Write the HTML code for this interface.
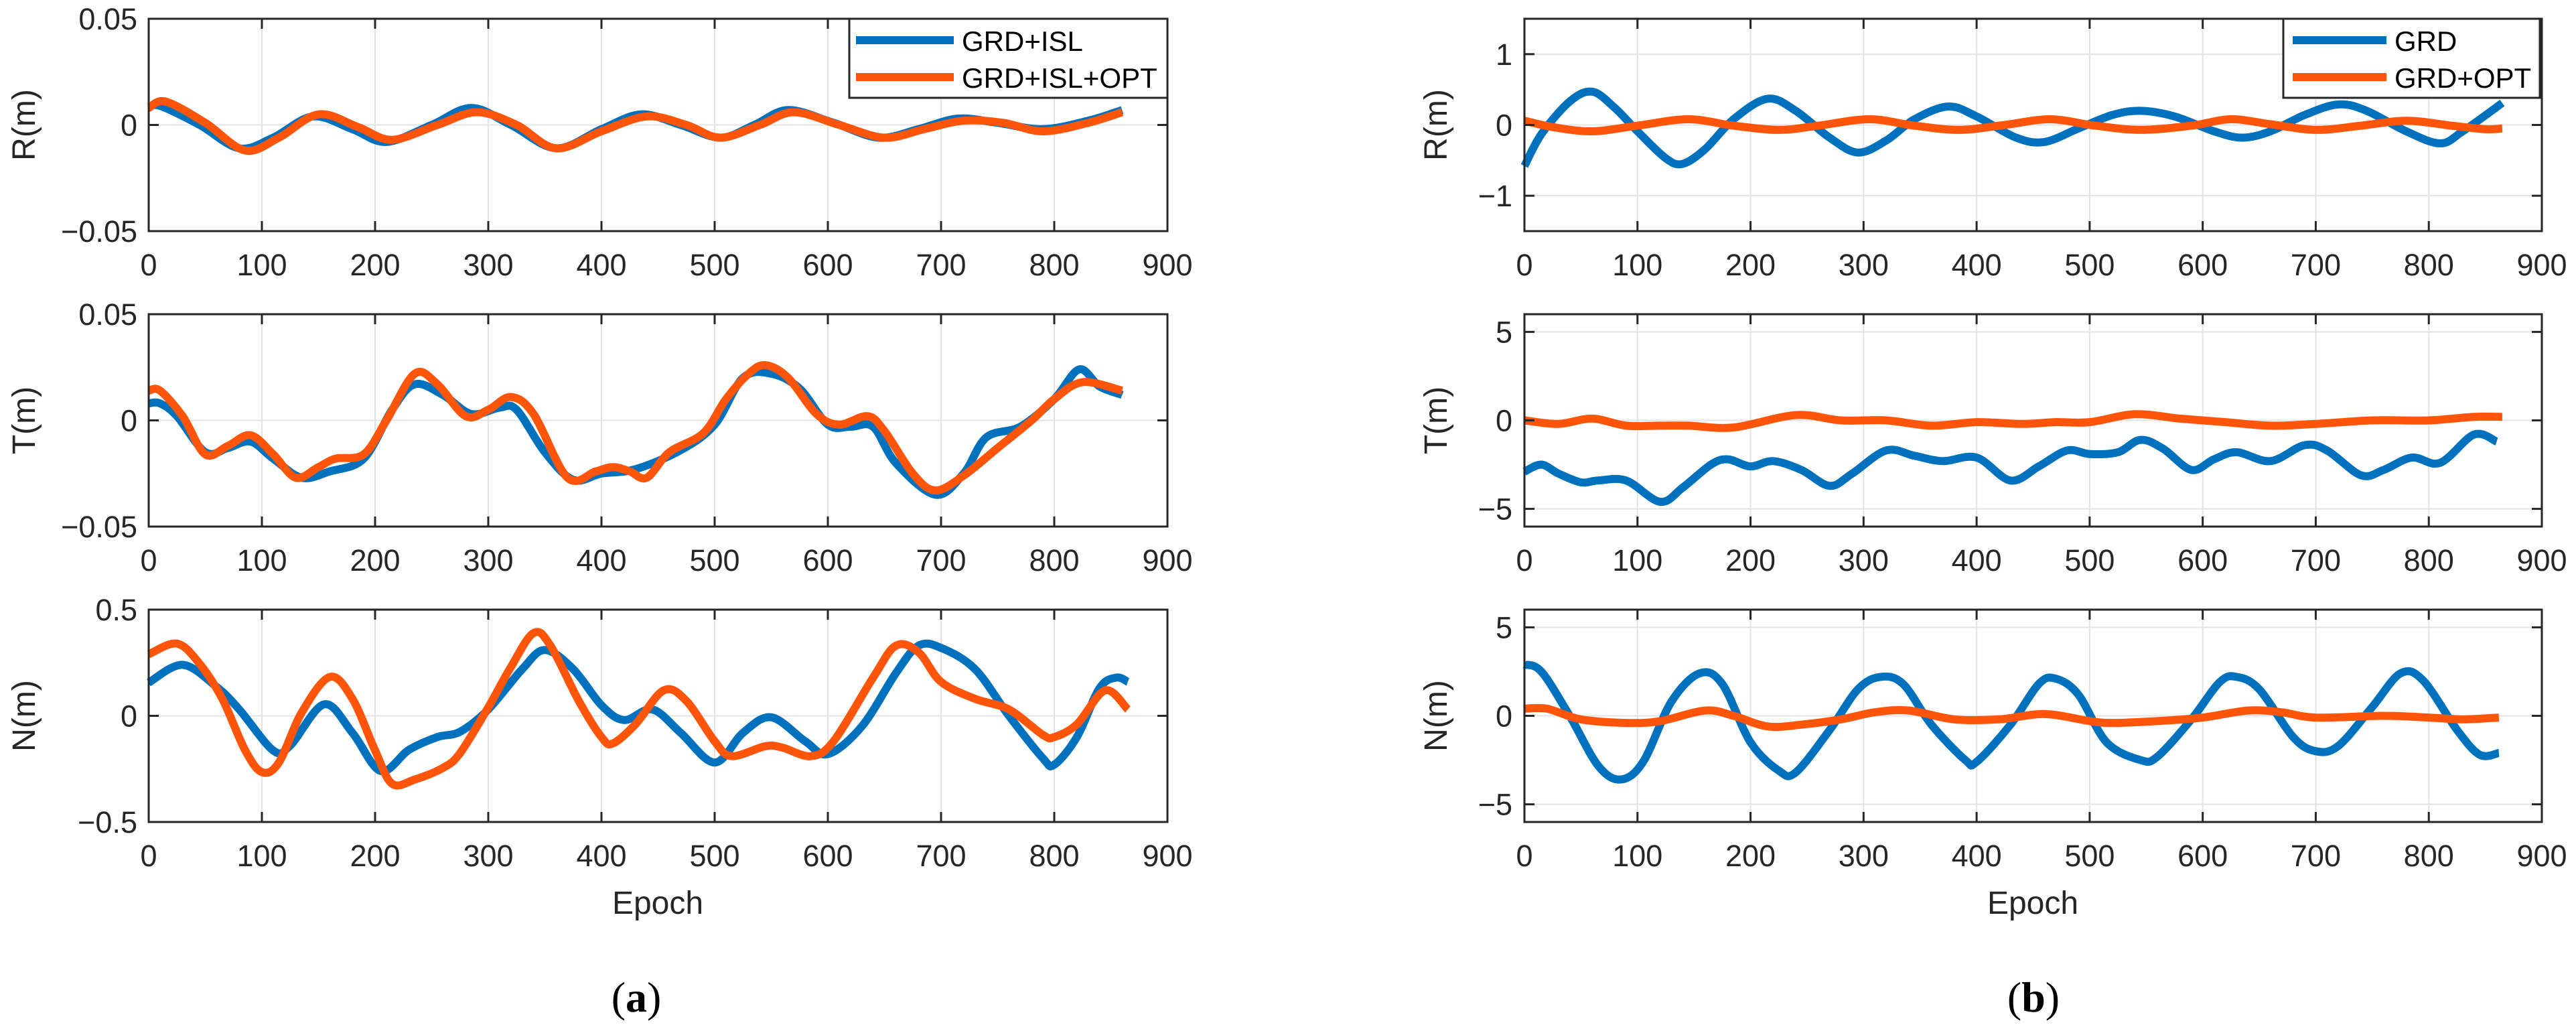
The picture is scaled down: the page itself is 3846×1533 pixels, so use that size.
<!DOCTYPE html>
<html><head><meta charset="utf-8">
<style>
html,body{margin:0;padding:0;background:#fff;}
svg{display:block;font-family:"Liberation Sans",Arial,sans-serif;}
</style></head>
<body>
<svg id="fig" width="3846" height="1533" viewBox="0 0 3846 1533" xmlns="http://www.w3.org/2000/svg"></svg>
<script>
// ---------- data ----------
const xTicks = [0,100,200,300,400,500,600,700,800,900];
const seriesNamesA = ["GRD+ISL","GRD+ISL+OPT"];
const seriesNamesB = ["GRD","GRD+OPT"];

const aR_blue_x = [0,10,45,80,110,145,180,210,250,285,320,360,400,435,470,505,535,565,605,645,680,715,750,790,830,860];
const aR_blue_y = [0.008,0.009,0.0,-0.011,-0.006,0.004,-0.002,-0.008,0.0,0.008,0.0,-0.011,-0.002,0.005,0.0,-0.006,0.0,0.007,0.001,-0.006,-0.002,0.003,0.001,-0.002,0.002,0.007];
const aR_or_x = [0,15,50,85,115,150,185,215,255,290,325,360,400,440,475,505,540,570,610,650,685,720,755,790,830,860];
const aR_or_y = [0.008,0.011,0.001,-0.012,-0.006,0.005,-0.001,-0.007,0.0,0.006,0.0,-0.011,-0.003,0.004,0.0,-0.006,0.0,0.006,0.0,-0.006,-0.002,0.002,0.001,-0.003,0.001,0.006];

const aT_blue_x = [0,10,25,50,70,90,110,135,160,190,215,235,260,285,310,325,350,375,400,430,470,500,525,550,575,600,620,640,660,695,720,740,770,800,822,840,860];
const aT_blue_y = [0.008,0.008,0.002,-0.015,-0.013,-0.01,-0.018,-0.027,-0.024,-0.018,0.005,0.017,0.012,0.003,0.006,0.005,-0.015,-0.028,-0.025,-0.023,-0.014,-0.002,0.02,0.022,0.015,-0.002,-0.003,-0.003,-0.02,-0.035,-0.025,-0.008,-0.003,0.01,0.024,0.016,0.012];
const aT_or_x = [0,10,30,50,70,90,110,130,150,165,190,210,235,255,280,300,320,340,370,395,410,425,440,460,490,510,530,545,565,590,610,635,650,675,695,720,750,780,800,825,860];
const aT_or_y = [0.014,0.014,0.002,-0.016,-0.012,-0.007,-0.016,-0.027,-0.022,-0.018,-0.016,0.0,0.022,0.017,0.002,0.005,0.011,0.003,-0.027,-0.024,-0.022,-0.024,-0.027,-0.015,-0.006,0.01,0.022,0.026,0.02,0.003,-0.002,0.002,-0.005,-0.025,-0.033,-0.026,-0.013,0.0,0.01,0.018,0.014];

const aN_blue_x = [0,30,60,80,110,125,155,180,205,230,255,275,300,330,350,375,400,420,445,470,500,525,550,580,600,630,660,680,700,730,760,790,800,820,840,855,865];
const aN_blue_y = [0.156,0.24,0.136,0.03,-0.163,-0.14,0.054,-0.08,-0.26,-0.16,-0.1,-0.075,0.03,0.22,0.31,0.22,0.05,-0.02,0.03,-0.08,-0.22,-0.08,-0.007,-0.12,-0.18,-0.05,0.2,0.33,0.32,0.22,0.0,-0.2,-0.23,-0.1,0.13,0.18,0.16];
const aN_or_x = [0,25,45,65,85,100,115,135,160,180,200,215,235,260,275,300,320,340,355,380,400,410,430,455,475,500,515,545,560,585,605,640,660,680,700,730,760,790,800,820,845,865];
const aN_or_y = [0.29,0.34,0.245,0.08,-0.16,-0.265,-0.22,0.014,0.183,0.08,-0.163,-0.32,-0.3,-0.245,-0.176,0.04,0.23,0.39,0.33,0.07,-0.1,-0.13,-0.04,0.12,0.07,-0.12,-0.19,-0.143,-0.15,-0.19,-0.12,0.18,0.33,0.3,0.16,0.08,0.03,-0.09,-0.1,-0.04,0.12,0.03];

const bR_blue_x = [0,15,40,60,80,100,125,140,160,185,215,240,270,295,320,345,375,400,435,460,490,520,545,575,610,635,660,690,720,745,780,810,830,865];
const bR_blue_y = [-0.58,-0.13,0.33,0.47,0.24,-0.09,-0.47,-0.55,-0.34,0.08,0.37,0.2,-0.18,-0.39,-0.22,0.08,0.26,0.12,-0.18,-0.24,-0.05,0.14,0.2,0.12,-0.09,-0.18,-0.09,0.14,0.29,0.2,-0.09,-0.26,-0.09,0.31];
const bR_or_x = [0,25,60,100,145,185,225,260,305,345,385,425,465,505,545,590,625,660,700,740,780,820,850,865];
const bR_or_y = [0.06,-0.03,-0.09,-0.01,0.08,-0.01,-0.07,-0.01,0.08,-0.01,-0.07,0.0,0.08,-0.01,-0.07,-0.01,0.08,0.01,-0.07,-0.01,0.06,-0.01,-0.06,-0.05];

const bT_blue_x = [0,15,30,50,65,90,120,140,165,180,200,220,245,270,290,320,345,370,400,430,455,480,500,525,545,565,590,610,630,660,690,710,740,760,785,810,840,860];
const bT_blue_y = [-2.9,-2.5,-3.0,-3.5,-3.4,-3.4,-4.6,-3.8,-2.5,-2.2,-2.6,-2.3,-2.8,-3.7,-3.0,-1.7,-2.0,-2.3,-2.1,-3.4,-2.6,-1.7,-1.9,-1.8,-1.1,-1.6,-2.8,-2.2,-1.8,-2.3,-1.4,-1.7,-3.1,-2.8,-2.1,-2.4,-0.8,-1.2];
const bT_or_x = [0,30,60,90,120,145,185,240,280,320,360,400,440,470,500,540,580,620,660,700,750,800,840,865];
const bT_or_y = [0.0,-0.2,0.1,-0.3,-0.3,-0.3,-0.4,0.3,0.0,0.0,-0.3,-0.1,-0.2,-0.1,-0.1,0.35,0.1,-0.1,-0.3,-0.2,0.0,0.0,0.2,0.2];

const bN_blue_x = [0,15,40,65,85,105,130,155,175,200,225,240,270,295,315,335,360,390,400,430,455,470,490,515,545,560,590,615,630,650,680,700,720,750,775,795,825,845,862];
const bN_blue_y = [2.9,2.5,0.0,-2.8,-3.6,-2.6,0.8,2.4,1.8,-1.5,-3.1,-3.2,-0.8,1.5,2.2,1.8,-0.5,-2.5,-2.6,-0.5,1.8,2.1,1.2,-1.5,-2.5,-2.3,-0.2,1.9,2.2,1.5,-1.2,-2.0,-1.7,0.5,2.4,2.0,-0.8,-2.2,-2.1];
const bN_or_x = [0,20,50,90,120,160,185,215,245,280,310,340,380,420,460,500,520,560,600,640,670,700,760,800,830,862];
const bN_or_y = [0.4,0.4,-0.2,-0.4,-0.3,0.3,0.0,-0.6,-0.5,-0.2,0.2,0.3,-0.2,-0.2,0.1,-0.3,-0.4,-0.3,-0.1,0.3,0.2,-0.1,0.0,-0.1,-0.2,-0.1];

const yTicksA1 = [-0.05,0,0.05], yTickLabA1 = ["\u22120.05","0","0.05"];
const yTicksA3 = [-0.5,0,0.5], yTickLabA3 = ["\u22120.5","0","0.5"];
const yTicksB1 = [-1,0,1], yTickLabB1 = ["\u22121","0","1"];
const yTicksB2 = [-5,0,5], yTickLabB2 = ["\u22125","0","5"];

// ---------- drawing ----------
const NS = "http://www.w3.org/2000/svg";
const svg = document.getElementById("fig");
const BLUE = "#0072BD", ORANGE = "#FF550A";
function mk(tag, attrs, parent){ const e=document.createElementNS(NS,tag); for(const k in attrs) e.setAttribute(k,attrs[k]); (parent||svg).appendChild(e); return e; }

function smoothPath(px, py){
  let d = "M"+px[0].toFixed(1)+","+py[0].toFixed(1);
  for(let i=0;i<px.length-1;i++){
    const x0=px[Math.max(i-1,0)], y0=py[Math.max(i-1,0)];
    const x1=px[i], y1=py[i], x2=px[i+1], y2=py[i+1];
    const x3=px[Math.min(i+2,px.length-1)], y3=py[Math.min(i+2,px.length-1)];
    const c1x=x1+(x2-x0)/6, c1y=y1+(y2-y0)/6, c2x=x2-(x3-x1)/6, c2y=y2-(y3-y1)/6;
    d += " C"+c1x.toFixed(1)+","+c1y.toFixed(1)+" "+c2x.toFixed(1)+","+c2y.toFixed(1)+" "+x2.toFixed(1)+","+y2.toFixed(1);
  }
  return d;
}

function panel(name, L, R, T, B, ymin, ymax, yTicks, yLabs, ylabel, series, ylabX, ytickX){
  const g = mk("g",{});
  
  
  const sx = v => L + (v-0)/(900-0)*(R-L);
  const sy = v => B - (v-ymin)/(ymax-ymin)*(B-T);
  xTicks.forEach(t=>{ const l=mk("line",{x1:sx(t),x2:sx(t),y1:T,y2:B,stroke:"#e3e3e3","stroke-width":2},g);
      });
  yTicks.forEach(t=>{ const l=mk("line",{x1:L,x2:R,y1:sy(t),y2:sy(t),stroke:"#e3e3e3","stroke-width":2},g);
      });
  series.forEach(s=>{
    const p = mk("path",{d:smoothPath(s.x.map(sx), s.y.map(sy)),fill:"none",stroke:s.c,"stroke-width":12,"stroke-linejoin":"round","stroke-linecap":"butt"},g);
    
    
  });
  const bx = mk("rect",{x:L,y:T,width:R-L,height:B-T,fill:"none",stroke:"#262626","stroke-width":3},g);
   
  xTicks.forEach(t=>{
    mk("line",{x1:sx(t),x2:sx(t),y1:B,y2:B-15,stroke:"#262626","stroke-width":3},g);
    mk("line",{x1:sx(t),x2:sx(t),y1:T,y2:T+15,stroke:"#262626","stroke-width":3},g);
    const tx = mk("text",{x:sx(t),y:B+66,"text-anchor":"middle","font-size":45,fill:"#262626"},g);
    tx.textContent = t;
     
  });
  yTicks.forEach((t,i)=>{
    mk("line",{x1:L,x2:L+15,y1:sy(t),y2:sy(t),stroke:"#262626","stroke-width":3},g);
    mk("line",{x1:R,x2:R-15,y1:sy(t),y2:sy(t),stroke:"#262626","stroke-width":3},g);
    const tx = mk("text",{x:ytickX,y:sy(t)+16,"text-anchor":"end","font-size":45,fill:"#262626"},g);
    tx.textContent = yLabs[i];
     
  });
  const yl = mk("text",{x:ylabX,y:(T+B)/2,"text-anchor":"middle","font-size":48,fill:"#262626",transform:"rotate(-90 "+ylabX+" "+(T+B)/2+")"},g);
  yl.textContent = ylabel;
   
}

const rows = [[28,345],[469,786],[910,1227]];
const LA=222, RA=1743, LB=2276, RB=3795;

panel("panel-a-r",LA,RA,rows[0][0],rows[0][1],-0.05,0.05,yTicksA1,yTickLabA1,"R(m)",
  [{x:aR_blue_x,y:aR_blue_y,c:BLUE,n:"series-grd-isl"},{x:aR_or_x,y:aR_or_y,c:ORANGE,n:"series-grd-isl-opt"}],52,205);
panel("panel-a-t",LA,RA,rows[1][0],rows[1][1],-0.05,0.05,yTicksA1,yTickLabA1,"T(m)",
  [{x:aT_blue_x,y:aT_blue_y,c:BLUE,n:"series-grd-isl"},{x:aT_or_x,y:aT_or_y,c:ORANGE,n:"series-grd-isl-opt"}],52,205);
panel("panel-a-n",LA,RA,rows[2][0],rows[2][1],-0.5,0.5,yTicksA3,yTickLabA3,"N(m)",
  [{x:aN_blue_x,y:aN_blue_y,c:BLUE,n:"series-grd-isl"},{x:aN_or_x,y:aN_or_y,c:ORANGE,n:"series-grd-isl-opt"}],52,205);
panel("panel-b-r",LB,RB,rows[0][0],rows[0][1],-1.5,1.5,yTicksB1,yTickLabB1,"R(m)",
  [{x:bR_blue_x,y:bR_blue_y,c:BLUE,n:"series-grd"},{x:bR_or_x,y:bR_or_y,c:ORANGE,n:"series-grd-opt"}],2160,2258);
panel("panel-b-t",LB,RB,rows[1][0],rows[1][1],-6,6,yTicksB2,yTickLabB2,"T(m)",
  [{x:bT_blue_x,y:bT_blue_y,c:BLUE,n:"series-grd"},{x:bT_or_x,y:bT_or_y,c:ORANGE,n:"series-grd-opt"}],2160,2258);
panel("panel-b-n",LB,RB,rows[2][0],rows[2][1],-6,6,yTicksB2,yTickLabB2,"N(m)",
  [{x:bN_blue_x,y:bN_blue_y,c:BLUE,n:"series-grd"},{x:bN_or_x,y:bN_or_y,c:ORANGE,n:"series-grd-opt"}],2160,2258);

function legend(name, x1, x2, lineX1, lineX2, textX, names){
  const g = mk("g",{});
  
  
  mk("rect",{x:x1,y:28,width:x2-x1,height:118,fill:"#fff",stroke:"#262626","stroke-width":3},g);
  const cols=[BLUE,ORANGE], ys=[60,115];
  names.forEach((n,i)=>{
    const l = mk("line",{x1:lineX1,x2:lineX2,y1:ys[i],y2:ys[i],stroke:cols[i],"stroke-width":12},g);
     
    const t = mk("text",{x:textX,y:ys[i]+16,"font-size":42,fill:"#000"},g);
    t.textContent = n;
     
  });
}
legend("legend-a",1268,1743,1278,1424,1436,seriesNamesA);
legend("legend-b",3409,3792,3423,3563,3575,seriesNamesB);

[[982,"epoch-label-a"],[3035,"epoch-label-b"]].forEach(([x,n])=>{
  const t = mk("text",{x:x,y:1364,"text-anchor":"middle","font-size":48,fill:"#262626"});
  t.textContent = "Epoch";
  
  
});
[[950,"a","caption-a"],[3036,"b","caption-b"]].forEach(([x,c,n])=>{
  const t = mk("text",{x:x,y:1510,"text-anchor":"middle","font-size":64,"font-family":"Liberation Serif, serif",fill:"#000"});
  t.innerHTML = "(<tspan font-weight='bold'>"+c+"</tspan>)";
  
  
});
</script>
</body></html>
